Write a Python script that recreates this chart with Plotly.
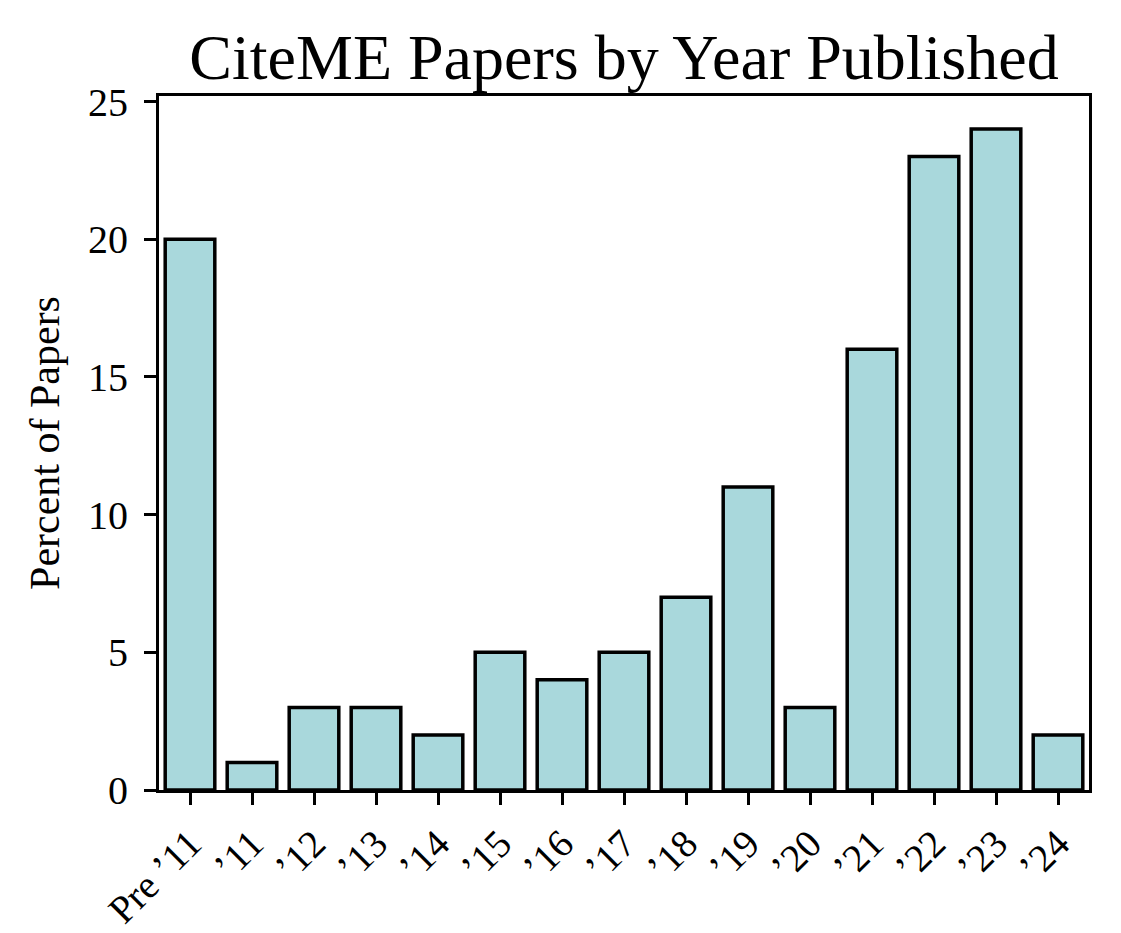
import plotly.graph_objects as go

categories = ["Pre \u201911", "\u201911", "\u201912", "\u201913", "\u201914", "\u201915", "\u201916",
              "\u201917", "\u201918", "\u201919", "\u201920", "\u201921", "\u201922", "\u201923", "\u201924"]
percent = [20, 1, 3, 3, 2, 5, 4, 5, 7, 11, 3, 16, 23, 24, 2]
y_ticks = [0, 5, 10, 15, 20, 25]

FONT = "Liberation Serif"

fig = go.Figure(go.Bar(
    x=list(range(len(categories))),
    y=percent,
    width=0.8,
    marker=dict(color="#A9D8DC", line=dict(color="black", width=3.5)),
))

fig.update_layout(
    width=1113, height=925,
    paper_bgcolor="white", plot_bgcolor="white",
    margin=dict(l=151, r=32, t=88, b=143, autoexpand=False),
    showlegend=False,
    font=dict(family=FONT, color="black", size=40),
    title=dict(text="CiteME Papers by Year Published", x=0.5, xref="paper", xanchor="center",
               y=0.947, yanchor="middle", font=dict(family=FONT, size=64, color="black")),
)

fig.update_xaxes(
    range=[-0.5, 14.5], automargin=False,
    tickmode="array", tickvals=list(range(len(categories))), ticktext=categories,
    tickangle=-45, ticks="outside", ticklen=12, tickwidth=2.5, tickcolor="black",
    showline=True, linecolor="black", linewidth=3, mirror=True,
    showgrid=False, zeroline=False, tickfont=dict(family=FONT, size=39),
)
fig.update_yaxes(
    range=[0, 25.2], automargin=False,
    tickmode="array", tickvals=y_ticks,
    ticks="outside", ticklen=12, tickwidth=2.5, tickcolor="black", ticklabelstandoff=8,
    showline=True, linecolor="black", linewidth=3, mirror=True,
    showgrid=False, zeroline=False, tickfont=dict(family=FONT, size=40),
    title=dict(text="Percent of Papers", font=dict(family=FONT, size=42), standoff=16),
)

fig.write_html("out.html")
